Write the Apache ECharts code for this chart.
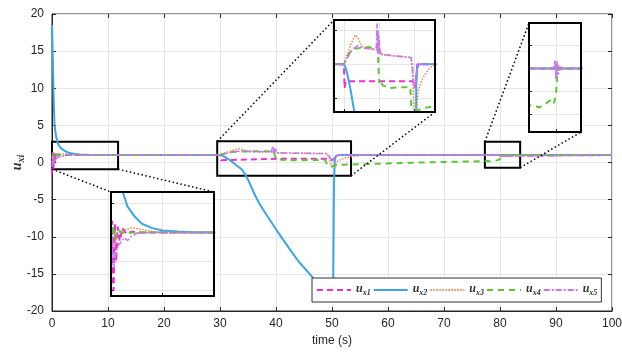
<!DOCTYPE html>
<html>
<head>
<meta charset="utf-8">
<script src="https://cdn.jsdelivr.net/npm/echarts@6/dist/echarts.min.js"></script>
<style>
html, body { margin: 0; padding: 0; background: #fff; }
#chart { width: 622px; height: 352px; }
</style>
</head>
<body>
<div id="chart"></div>
<script>
// Control inputs u_xi over time, [t (s), value]
const ux1 = [[0,-1.5],[0.12,1.4],[0.25,-1.0],[0.38,1.3],[0.5,0.0],[0.65,1.2],[0.85,0.7],[1.1,1.15],[1.5,0.95],[2,1.03],[3,1.0],[30,1.0],[30.2,0.3],[30.5,0.5],[40,0.5],[49.6,0.5],[50,0.3],[50.4,0.5],[50.8,1.0],[79.8,1.0],[80,1.1],[80.2,0.92],[80.4,1.0],[100,1.0]];
const ux2 = [[0,18.5],[0.15,14],[0.3,8.5],[0.45,5.2],[0.7,3.6],[1.1,2.45],[1.6,1.9],[2.3,1.55],[3,1.3],[4,1.15],[5,1.07],[6.5,1.03],[8,1.01],[10,1.0],[30,1.0],[30.5,0.9],[31,0.7],[31.8,0.3],[32.8,-0.3],[34,-1.0],[35,-2.3],[36,-4.0],[37,-5.5],[38,-6.7],[40,-9.0],[42,-11.2],[44,-13.3],[46,-15.0],[48,-16.8],[50,-18.5],[50.2,-18],[50.35,-3],[50.5,0.4],[50.7,0.85],[51.2,1.0],[100,1.0]];
const ux3 = [[0,0.0],[0.2,0.45],[0.5,0.8],[1,1.05],[2,1.16],[3,1.1],[4,1.03],[5,1.0],[30,1.0],[31,1.3],[32,1.6],[33.2,1.86],[34.1,1.75],[35.1,1.52],[37.4,1.45],[39.6,1.42],[39.8,1.6],[40,1.3],[40.2,1.5],[40.4,1.28],[44,1.25],[49,1.2],[49.5,0.6],[49.9,-0.5],[50.5,-0.6],[51,0.2],[52.3,0.6],[54,0.85],[55.5,1.0],[79.8,1.0],[80,0.9],[80.2,1.08],[80.4,0.97],[80.7,1.0],[100,1.0]];
const ux4 = [[0,0.6],[0.2,1.25],[0.4,0.75],[0.7,1.08],[1.2,0.98],[2,1.0],[30,1.0],[31,1.25],[32.5,1.45],[36,1.5],[39.6,1.5],[39.8,0.9],[40,0.45],[40.3,0.55],[41,0.38],[43,0.3],[46,0.33],[48.8,0.33],[49.2,-0.4],[50,-0.55],[51,-0.35],[52,-0.3],[56,-0.22],[60,-0.12],[65,-0.02],[70,0.08],[75,0.14],[77.8,0.19],[78.4,0.14],[79.1,0.24],[79.6,0.32],[79.8,0.24],[80,0.45],[80.15,1.0],[100,1.0]];
const ux5 = [[0,-0.6],[0.15,0.9],[0.3,-0.2],[0.45,0.3],[0.7,0.55],[1.0,0.68],[1.3,0.82],[1.6,0.72],[2.0,0.87],[2.5,0.97],[3.5,1.0],[30,1.0],[31,1.2],[32.5,1.45],[34,1.55],[35.5,1.47],[38.5,1.45],[39.2,1.5],[39.4,2.2],[39.55,1.3],[39.7,2.0],[39.85,1.35],[40,1.8],[40.15,1.3],[40.4,1.4],[40.8,1.3],[44,1.25],[49,1.2],[49.4,1.0],[49.8,0.4],[50.2,0.3],[50.6,0.8],[51,1.0],[79.8,1.0],[79.9,1.18],[80,0.75],[80.1,1.15],[80.2,0.85],[80.3,1.05],[80.5,1.0],[100,1.0]];

const seriesNames = ['u_x1', 'u_x2', 'u_x3', 'u_x4', 'u_x5'];
const seriesData = [ux1, ux2, ux3, ux4, ux5];

// Main axes: ticks
const xRange = [0, 100], xStep = 10;
const yRange = [-20, 20], yStep = 5;

// Zoomed regions [t0, t1, v0, v1] and the ranges shown in each magnified view
const zoomBoxes = [[0, 11.8, -0.9, 2.8], [29.5, 53.4, -1.8, 2.85], [77.3, 83.6, -0.7, 2.8]];
const insetX = [[0, 10], [27.2, 55.8], [77.4, 82.4]];
const insetY = [[-1.2, 2.4], [-0.4, 2.3], [-0.4, 2.0]];
const insetSplitX = [2, 3, 1];
const insetSplitY = [4, 3, 5];

// Layout of the magnified views (pixels)
const insetRects = [
  { left: 111, top: 192, width: 103, height: 104 },
  { left: 334, top: 20, width: 101, height: 92 },
  { left: 529, top: 23, width: 52, height: 109 }
];

const colors = ['#ee2fcf', '#3aa6e6', '#f2864a', '#5cc531', '#c478ee'];
const lineStyles = [
  { width: 2, type: [6, 4] },
  { width: 2, type: 'solid' },
  { width: 1.5, type: [1.5, 1.5] },
  { width: 2, type: [6, 5] },
  { width: 1.6, type: [6, 2, 2, 2] }
];

const axisColor = '#262626';
const gridColor = '#e6e6e6';
const labelFont = 'Liberation Sans, Arial, sans-serif';
const serif = 'Liberation Serif, DejaVu Serif, serif';

const richU = {
  u: { fontFamily: serif, fontStyle: 'italic', fontWeight: 'bold', fontSize: 12, color: '#333', lineHeight: 14, verticalAlign: 'top' },
  s: { fontFamily: serif, fontStyle: 'italic', fontWeight: 'bold', fontSize: 8, color: '#333', lineHeight: 14, verticalAlign: 'bottom', padding: [6, 0, 0, 0] }
};
const richName = {
  u: { fontFamily: serif, fontStyle: 'italic', fontWeight: 'bold', fontSize: 14, color: '#333', lineHeight: 16, verticalAlign: 'top' },
  s: { fontFamily: serif, fontStyle: 'italic', fontWeight: 'bold', fontSize: 10, color: '#333', lineHeight: 16, verticalAlign: 'bottom', padding: [6, 0, 0, 0] }
};

const chart = echarts.init(document.getElementById('chart'), null, { renderer: 'canvas' });

const grids = [{ left: 52, right: 10, top: 14, bottom: 41, show: true, borderColor: axisColor, borderWidth: 1, backgroundColor: '#fff', z: 0, outerBoundsMode: 'none', containLabel: false }];
insetRects.forEach(r => grids.push(Object.assign({ show: true, borderWidth: 0, backgroundColor: '#fff', z: 3, outerBoundsMode: 'none', containLabel: false }, r)));

const xAxes = [{
  type: 'value', gridIndex: 0, min: xRange[0], max: xRange[1], interval: xStep,
  name: 'time (s)', nameLocation: 'middle', nameGap: 24, nameMoveOverlap: false,
  nameTextStyle: { fontFamily: labelFont, fontSize: 12, color: axisColor },
  axisLine: { onZero: false, lineStyle: { color: axisColor } },
  axisTick: { inside: true, length: 4, lineStyle: { color: axisColor } },
  axisLabel: { fontFamily: labelFont, fontSize: 12, color: axisColor, margin: 7 },
  splitLine: { show: true, lineStyle: { color: gridColor } }
}];
const yAxes = [{
  type: 'value', gridIndex: 0, min: yRange[0], max: yRange[1], interval: yStep,
  name: '{u|u}{s|xi}', nameLocation: 'middle', nameGap: 26, nameRotate: 90, nameMoveOverlap: false,
  nameTextStyle: { rich: richName },
  axisLine: { onZero: false, lineStyle: { color: axisColor } },
  axisTick: { inside: true, length: 4, lineStyle: { color: axisColor } },
  axisLabel: { fontFamily: labelFont, fontSize: 12, color: axisColor, margin: 8 },
  splitLine: { show: true, lineStyle: { color: gridColor } }
}];
for (let k = 0; k < 3; k++) {
  xAxes.push({
    type: 'value', gridIndex: k + 1, min: insetX[k][0], max: insetX[k][1], splitNumber: insetSplitX[k], z: 4,
    axisLine: { show: false, onZero: false }, axisLabel: { show: false },
    axisTick: { show: true, inside: true, length: 3, lineStyle: { color: axisColor } },
    splitLine: { show: true, lineStyle: { color: gridColor } }
  });
  yAxes.push({
    type: 'value', gridIndex: k + 1, min: insetY[k][0], max: insetY[k][1], splitNumber: insetSplitY[k], z: 4,
    axisLine: { show: false, onZero: false }, axisLabel: { show: false },
    axisTick: { show: true, inside: true, length: 3, lineStyle: { color: axisColor } },
    splitLine: { show: true, lineStyle: { color: gridColor } }
  });
}
// Mirror ticks on the top and right edges of the main box
xAxes.push({
  type: 'value', gridIndex: 0, position: 'top', min: xRange[0], max: xRange[1], interval: xStep,
  axisLine: { show: false, onZero: false }, axisLabel: { show: false }, splitLine: { show: false },
  axisTick: { inside: true, length: 4, lineStyle: { color: axisColor } }
});
yAxes.push({
  type: 'value', gridIndex: 0, position: 'right', min: yRange[0], max: yRange[1], interval: yStep,
  axisLine: { show: false, onZero: false }, axisLabel: { show: false }, splitLine: { show: false },
  axisTick: { inside: true, length: 4, lineStyle: { color: axisColor } }
});

const series = [];
for (let g = 0; g < 4; g++) {
  seriesNames.forEach((name, i) => {
    const s = {
      type: 'line', name: name, xAxisIndex: g, yAxisIndex: g,
      data: seriesData[i], symbol: 'none', showSymbol: false, clip: true,
      lineStyle: Object.assign({ color: colors[i] }, lineStyles[i]),
      itemStyle: { color: colors[i] },
      z: g === 0 ? 2 : 5, silent: true
    };
    if (g === 0 && i === 0) {
      s.markArea = {
        silent: true,
        itemStyle: { color: 'rgba(0,0,0,0)', borderColor: '#000', borderWidth: 2 },
        data: zoomBoxes.map(b => [{ xAxis: b[0], yAxis: b[3] }, { xAxis: b[1], yAxis: b[2] }])
      };
    }
    series.push(s);
  });
}

chart.setOption({
  animation: false,
  backgroundColor: '#fff',
  grid: grids,
  xAxis: xAxes,
  yAxis: yAxes,
  legend: {
    data: seriesNames, left: 312, top: 278, orient: 'horizontal',
    itemWidth: 34, itemHeight: 10, itemGap: 2, padding: [5, 4, 5, 4],
    backgroundColor: '#fff', borderColor: '#333', borderWidth: 1, z: 10,
    itemStyle: { color: 'rgba(0,0,0,0)', borderWidth: 0, opacity: 0 },
    formatter: name => '{u|u}{s|' + name.slice(2) + '}',
    textStyle: { rich: richU }
  },
  series: series
});

// Dotted connectors from each zoomed region to its magnified view, plus frames
const px = (t, v) => chart.convertToPixel({ xAxisIndex: 0, yAxisIndex: 0 }, [t, v]);
const corner = (r, sx, sy) => [r.left + sx * r.width, r.top + sy * r.height];
const links = [
  [px(zoomBoxes[0][0], zoomBoxes[0][2]), corner(insetRects[0], 0, 0)],
  [px(zoomBoxes[0][1], zoomBoxes[0][2]), corner(insetRects[0], 1, 0)],
  [px(zoomBoxes[1][0], zoomBoxes[1][3]), corner(insetRects[1], 0, 0)],
  [px(zoomBoxes[1][1], zoomBoxes[1][2]), corner(insetRects[1], 1, 1)],
  [px(zoomBoxes[2][0], zoomBoxes[2][3]), corner(insetRects[2], 0, 0)],
  [px(zoomBoxes[2][1], zoomBoxes[2][2]), corner(insetRects[2], 1, 1)]
];
const graphics = links.map(l => ({
  type: 'line', z: 6, silent: true,
  shape: { x1: l[0][0], y1: l[0][1], x2: l[1][0], y2: l[1][1] },
  style: { stroke: '#000', lineWidth: 1.5, lineDash: [1.5, 2.5] }
}));
insetRects.forEach(r => graphics.push({
  type: 'rect', z: 7, silent: true,
  shape: { x: r.left, y: r.top, width: r.width, height: r.height },
  style: { fill: 'none', stroke: '#000', lineWidth: 2 }
}));
chart.setOption({ graphic: graphics });
</script>
</body>
</html>
